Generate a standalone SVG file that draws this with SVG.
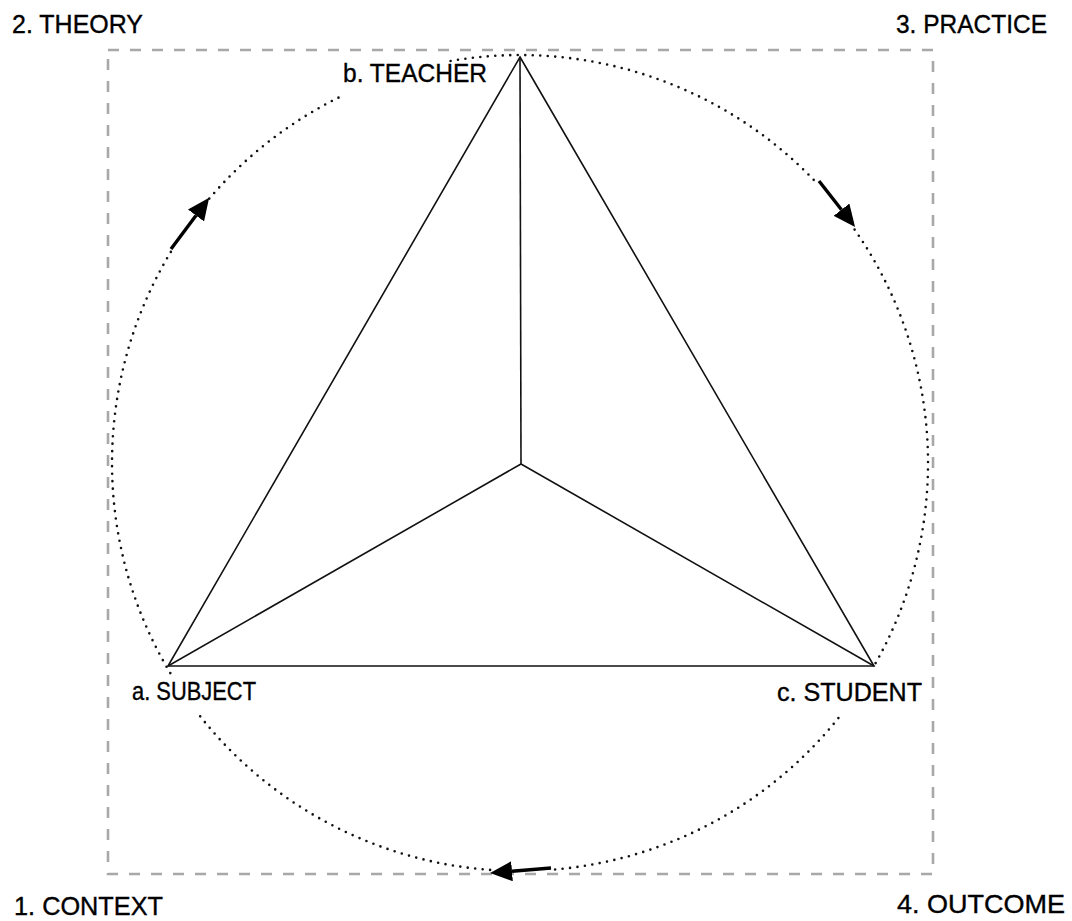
<svg xmlns="http://www.w3.org/2000/svg" width="1072" height="921" viewBox="0 0 1072 921">
<style>
.lbl{font-family:"Liberation Sans",Arial,sans-serif;font-size:25px;fill:#000;stroke:#000;stroke-width:0.35}
.tri{fill:none;stroke:#111;stroke-width:1.6;stroke-linejoin:miter}
.dots{fill:none;stroke:#111;stroke-width:2.6;stroke-linecap:round;stroke-dasharray:0 7.5}
.frame{fill:none;stroke:#a8a8a8;stroke-width:2.6;stroke-dasharray:11 11}
.arr{stroke:#000;stroke-width:3.4;fill:none;marker-end:url(#head)}
</style>
<defs>
<marker id="head" viewBox="0 -10 22 20" refX="0" refY="0" markerWidth="22" markerHeight="20" markerUnits="userSpaceOnUse" orient="auto">
<path d="M0,-10 L22,0 L0,10 z" fill="#000"/>
</marker>
</defs>
<rect width="1072" height="921" fill="#fff"/>
<g id="frame">
<rect class="frame" x="108" y="50" width="825" height="824"/>
</g>
<g id="cycle">
<path class="dots" d="M450.6,61 A408,408 0 0 1 816.9,183.2"/>
<path class="dots" d="M854.6,229.6 A408,408 0 0 1 874.1,665.8"/>
<path class="dots" d="M838.4,718.1 A408,408 0 0 1 552,869.7"/>
<path class="dots" d="M490.1,869.9 A408,408 0 0 1 198.9,714.7"/>
<path class="dots" d="M170.3,673.1 A408,408 0 0 1 172.5,249.2"/>
<path class="dots" d="M209.3,198.6 A408,408 0 0 1 343.7,95.1"/>
</g>
<g id="connectors">
<line class="arr" x1="171" y1="249" x2="196" y2="215.5"/>
<line class="arr" x1="819" y1="181" x2="841.5" y2="209.7"/>
<line class="arr" x1="551" y1="868" x2="512" y2="871.2"/>
<line class="tri" x1="520" y1="57" x2="521" y2="464"/>
<line class="tri" x1="168" y1="666" x2="521" y2="464"/>
<line class="tri" x1="874" y1="666" x2="521" y2="464"/>
</g>
<g id="triangle">
<path class="tri" d="M520,57 L874,666 L168,666 Z"/>
</g>
<g id="node-theory"><text class="lbl" x="12" y="33" textLength="131" lengthAdjust="spacingAndGlyphs">2. THEORY</text></g>
<g id="node-practice"><text class="lbl" x="896" y="33" textLength="151" lengthAdjust="spacingAndGlyphs">3. PRACTICE</text></g>
<g id="node-teacher"><text class="lbl" x="343" y="82" textLength="144" lengthAdjust="spacingAndGlyphs">b. TEACHER</text></g>
<g id="node-subject"><text class="lbl" x="132" y="700" textLength="124" lengthAdjust="spacingAndGlyphs">a. SUBJECT</text></g>
<g id="node-student"><text class="lbl" x="777" y="701" textLength="145" lengthAdjust="spacingAndGlyphs">c. STUDENT</text></g>
<g id="node-context"><text class="lbl" x="14" y="915" textLength="149" lengthAdjust="spacingAndGlyphs">1. CONTEXT</text></g>
<g id="node-outcome"><text class="lbl" x="897" y="913" textLength="168" lengthAdjust="spacingAndGlyphs">4. OUTCOME</text></g>
</svg>
